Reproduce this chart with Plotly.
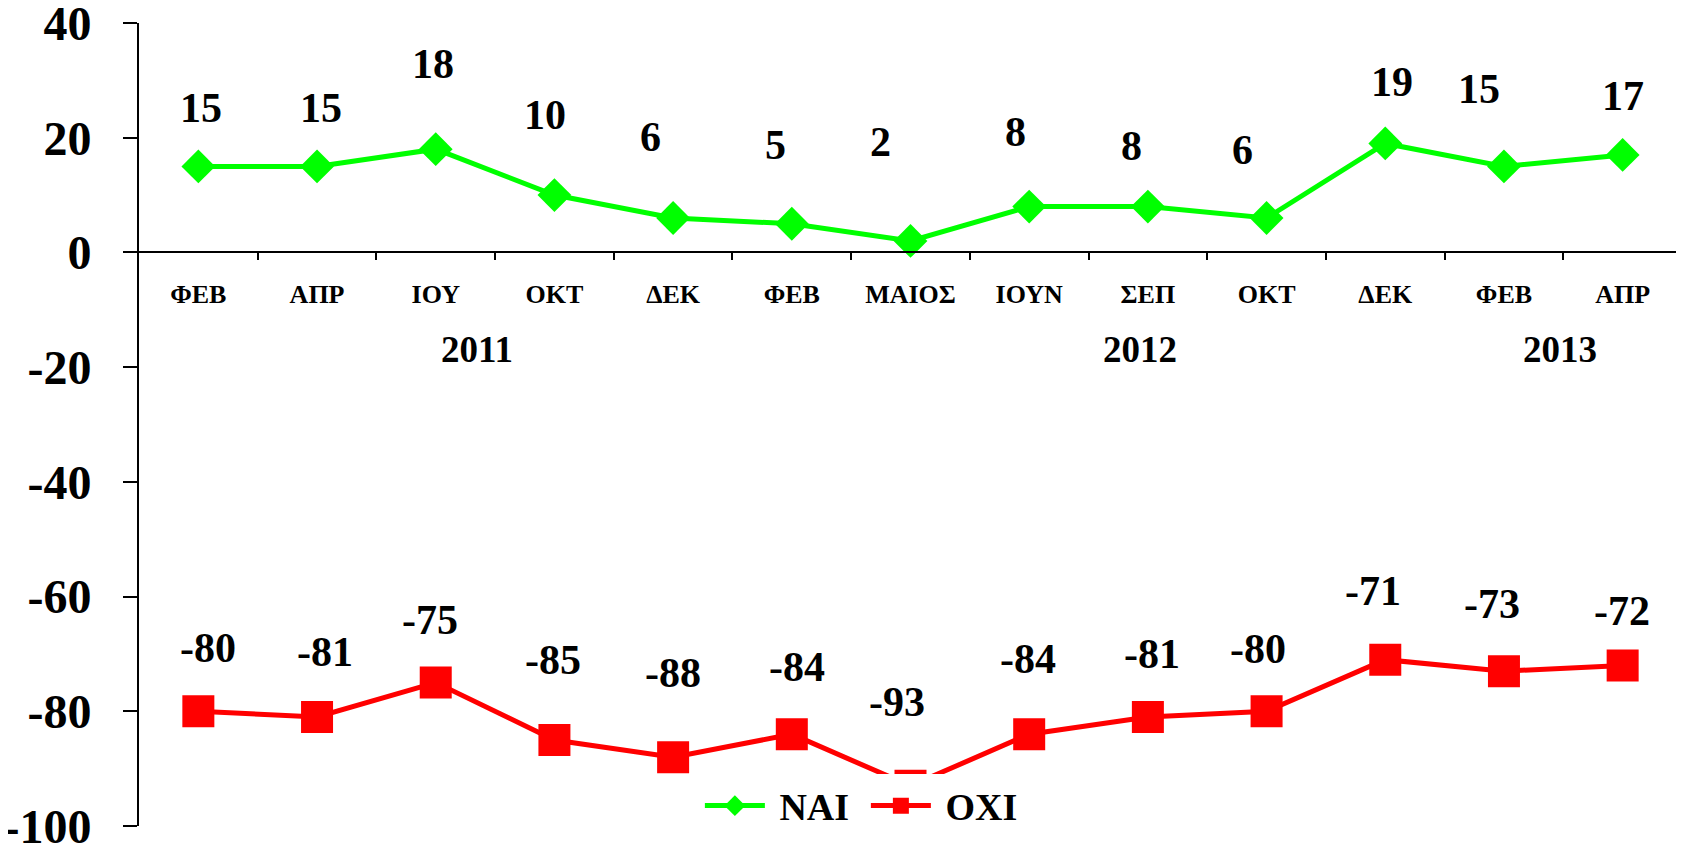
import plotly.graph_objects as go

months = ["ΦΕΒ", "ΑΠΡ", "ΙΟΥ", "ΟΚΤ", "ΔΕΚ", "ΦΕΒ", "ΜΑΙΟΣ", "ΙΟΥΝ", "ΣΕΠ", "ΟΚΤ", "ΔΕΚ", "ΦΕΒ", "ΑΠΡ"]
nai = [15, 15, 18, 10, 6, 5, 2, 8, 8, 6, 19, 15, 17]
oxi = [-80, -81, -75, -85, -88, -84, -93, -84, -81, -80, -71, -73, -72]
years = ["2011", "2012", "2013"]
year_pos = [2.35, 7.93, 11.47]
y_ticks = [-100, -80, -60, -40, -20, 0, 20, 40]
y_ticktext = ["-100", "-80", "-60", "-40", "-20", "0", "20", "40"]

# label offsets (pixels) relative to each point
nai_dy = [58, 58, 85, 80, 81, 79, 99, 75, 61, 68, 61, 77, 59]
nai_dx = [3, 4, -3, -9, -23, -16, -30, -14, -16, -24, 7, -25, 0]
oxi_dy = [63, 65, 63, 80, 84, 67, 84, 75, 63, 62, 69, 67, 54]
oxi_dx = [10, 8, -6, -1, 0, 5, -14, -1, 4, -9, -12, -12, -1]

FONT = "Liberation Serif"
xs = list(range(len(months)))
boundaries = [i + 0.5 for i in xs]
XPOS = 100 / 140

fig = go.Figure()
fig.add_trace(go.Scatter(
    x=xs, y=nai, name="\u00a0ΝΑΙ", mode="lines+markers",
    line=dict(color="#00FF00", width=5),
    marker=dict(symbol="diamond", size=26, color="#00FF00"),
))
fig.add_trace(go.Scatter(
    x=xs, y=oxi, name="\u00a0ΟΧΙ", mode="lines+markers",
    line=dict(color="#FF0000", width=5),
    marker=dict(symbol="square", size=32, color="#FF0000"),
))
# invisible trace so the label axis (x2) is drawn
fig.add_trace(go.Scatter(
    x=xs, y=nai, xaxis="x2", yaxis="y", mode="markers",
    marker=dict(size=1, opacity=0), showlegend=False, hoverinfo="skip",
))

annotations = []
for i, v in enumerate(nai):
    annotations.append(dict(x=i, y=v, xref="x", yref="y", text=str(v), showarrow=False,
                            xanchor="center", yanchor="middle", xshift=nai_dx[i], yshift=nai_dy[i],
                            font=dict(family=FONT, size=42, color="black", weight="bold")))
for i, v in enumerate(oxi):
    annotations.append(dict(x=i, y=v, xref="x", yref="y", text=str(v), showarrow=False,
                            xanchor="center", yanchor="middle", xshift=oxi_dx[i], yshift=oxi_dy[i],
                            font=dict(family=FONT, size=42, color="black", weight="bold")))
for yr, px in zip(years, year_pos):
    annotations.append(dict(x=px, y=0.594, xref="x", yref="paper", text=yr, showarrow=False,
                            xanchor="center", yanchor="middle",
                            font=dict(family=FONT, size=37, color="black", weight="bold")))

fig.update_layout(
    width=1684, height=850,
    paper_bgcolor="white", plot_bgcolor="white",
    margin=dict(l=131, r=10, t=15, b=32, autoexpand=False),
    font=dict(family=FONT, color="black", weight="bold"),
    annotations=annotations,
    showlegend=True,
    legend=dict(orientation="h", x=0.3635, xanchor="left", y=0.025, yanchor="middle",
                bgcolor="white", itemwidth=60, entrywidth=91, entrywidthmode="pixels",
                font=dict(family=FONT, size=38, color="black", weight="bold")),
    xaxis=dict(
        range=[-0.5, 12.5], tickvals=boundaries, ticktext=[""] * len(boundaries),
        anchor="free", position=XPOS,
        showline=True, linecolor="black", linewidth=2,
        ticks="outside", ticklen=7, tickwidth=2, tickcolor="black",
        showgrid=False, zeroline=False, automargin=False,
    ),
    xaxis2=dict(
        range=[-0.5, 12.5], tickvals=xs, ticktext=months,
        overlaying="x", anchor="free", position=XPOS, side="bottom",
        showline=False, ticks="", showgrid=False, zeroline=False,
        tickfont=dict(family=FONT, size=26, color="black", weight="bold"),
        ticklabelstandoff=24, automargin=False,
    ),
    yaxis=dict(
        range=[-100.001, 40.001], tickvals=y_ticks, ticktext=y_ticktext,
        showline=True, linecolor="black", linewidth=2,
        ticks="outside", ticklen=14, tickwidth=2, tickcolor="black",
        showgrid=False, zeroline=False,
        tickfont=dict(family=FONT, size=48, color="black", weight="bold"),
        ticklabelstandoff=22, automargin=False, ticklabeloverflow="allow",
    ),
)

fig.write_html("out.html")
